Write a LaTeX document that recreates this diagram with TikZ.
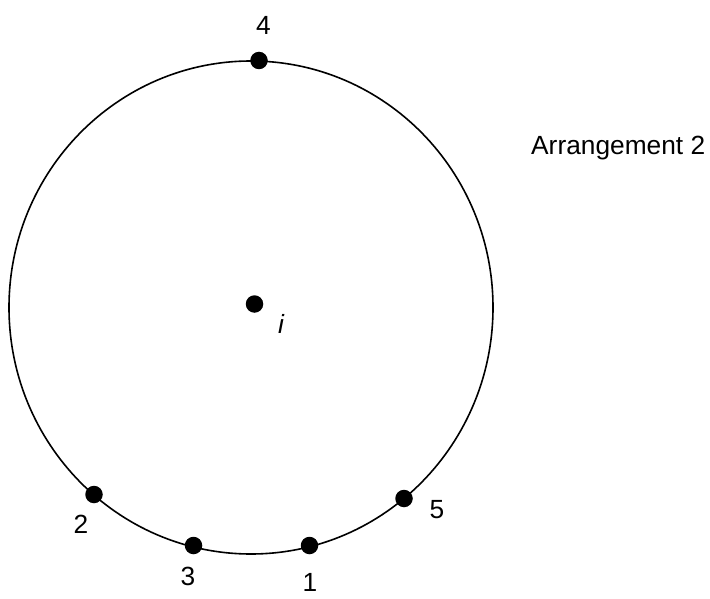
\documentclass[tikz,border=0pt]{standalone}
\usepackage{fontspec}
\setmainfont{Liberation Sans}
\begin{document}
\begin{tikzpicture}[x=1pt,y=-1pt,
  dotpt/.style={circle,fill=black,inner sep=0pt,minimum size=17.5pt},
  lbl/.style={inner sep=0pt,font=\fontsize{26.3}{30}\selectfont}]
\useasboundingbox (0,0) rectangle (710,599);
\coordinate (c) at (251,307.5);
\draw[line width=1.6pt] (c) ellipse [x radius=242, y radius=246.5];
\node[dotpt] (p4) at (259,60.5) {};
\node[dotpt] (p2) at (94,494.5) {};
\node[dotpt] (p3) at (193.5,545.5) {};
\node[dotpt] (p1) at (309.5,545.5) {};
\node[dotpt] (p5) at (404,498.5) {};
\node[dotpt] (pc) at (254.5,304) {};
\node[lbl] (l4) at (263.5,25) {4};
\node[lbl] (l2) at (81,524.5) {2};
\node[lbl] (l3) at (188,576) {3};
\node[lbl] (l1) at (310,582) {1};
\node[lbl] (l5) at (437,510) {5};
\node[lbl] (li) at (281,324) {\itshape i};
\node[lbl,anchor=west] (t) at (531,148) {Arrangement 2};
\end{tikzpicture}
\end{document}
